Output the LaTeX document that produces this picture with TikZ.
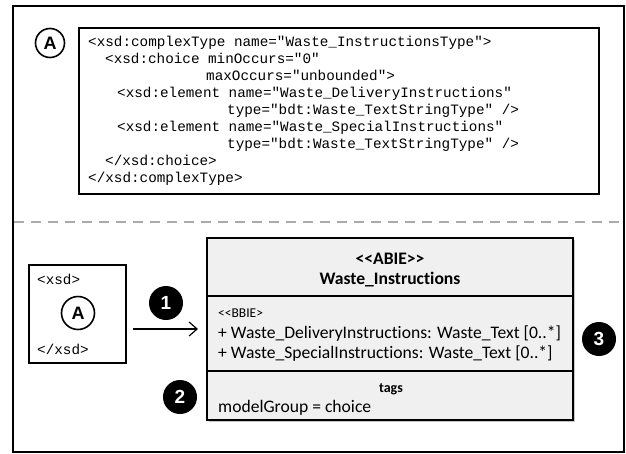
\documentclass[tikz,border=0pt]{standalone}
\usepackage{fontspec}
\setmainfont{Carlito}[Ligatures={TeXOff,CommonOff}]
\newfontfamily\codefont{Liberation Mono}
\newfontfamily\labelfont{Liberation Sans}
\usetikzlibrary{arrows.meta}
\definecolor{umlfill}{HTML}{F0F0F0}
\definecolor{sepgray}{HTML}{AAAAAA}
\tikzset{
  frame/.style={draw=black, line width=2pt},
  code/.style={inner sep=0pt, anchor=base west, font=\codefont\fontsize{14.3}{17}\selectfont},
  umltext/.style={inner sep=0pt, anchor=base west, font=\fontsize{17.6}{20}\selectfont},
  umlhead/.style={inner sep=0pt, anchor=base, font=\bfseries\fontsize{17.6}{20}\selectfont},
  umlsmall/.style={inner sep=0pt, anchor=base, font=\fontsize{13.5}{15}\selectfont},
  compartment/.style={draw=black, fill=umlfill, line width=2pt},
  refcircle/.style={circle, draw=black, fill=white, line width=1.6pt, inner sep=0pt,
    font=\labelfont\bfseries\fontsize{18}{18}\selectfont},
  numcircle/.style={circle, fill=black, text=white, inner sep=0pt, minimum size=34pt,
    font=\labelfont\bfseries\fontsize{19}{19}\selectfont},
}
\begin{document}
\begin{tikzpicture}[x=1pt, y=-1pt]
\useasboundingbox (0,0) rectangle (626,453);
\fill[white] (0,0) rectangle (626,453);

% outer frame and section separator
\draw[frame] (13,6) rectangle (624,451.5);
\draw[sepgray, line width=2.4pt, dash pattern=on 10pt off 7pt] (14,222) -- (623,222);

% XSD listing
\draw[frame] (79,28) rectangle (599,194);
\node[refcircle, minimum size=29pt] (refA) at (50,43) {A};
\node[code] (l1) at (88,46.5)  {<xsd:complexType name="Waste\_InstructionsType">};
\node[code] (l2) at (105,63.5) {<xsd:choice minOccurs="0"};
\node[code] (l3) at (206,80.5) {maxOccurs="unbounded">};
\node[code] (l4) at (117,97.5) {<xsd:element name="Waste\_DeliveryInstructions"};
\node[code] (l5) at (227,114.5) {type="bdt:Waste\_TextStringType" />};
\node[code] (l6) at (117,131.5) {<xsd:element name="Waste\_SpecialInstructions"};
\node[code] (l7) at (227,148.5) {type="bdt:Waste\_TextStringType" />};
\node[code] (l8) at (105,165.5) {</xsd:choice>};
\node[code] (l9) at (88,182.5) {</xsd:complexType>};

% schema reference box
\draw[frame] (29,265) rectangle (126,363);
\node[code] (xo) at (37,284.5) {<xsd>};
\node[code] (xc) at (37,354.5) {</xsd>};
\node[refcircle, minimum size=33pt] (refB) at (78,313) {A};

% mapping arrow
\coordinate (arrS) at (133,329);
\coordinate (arrE) at (198,329);
\draw[line width=1.2pt, -{Straight Barb[length=8pt, width=14pt, line width=1.2pt]}] (arrS) -- (arrE);

% UML class with its compartments
\fill[gray!45] (208.5,239.5) rectangle (574.5,421.5);
\draw[compartment] (207,238) rectangle (573,296);
\draw[compartment] (207,296) rectangle (573,371);
\draw[compartment] (207,371) rectangle (573,420);
\node[umlhead] (ster) at (390,264) {<<ABIE>>};
\node[umlhead] (cname) at (390,284.5) {Waste\_Instructions};
\node[umlsmall, anchor=base west] (bbie) at (218,317) {<<BBIE>};
\node[umltext] (att1) at (218,338) {+ Waste\_DeliveryInstructions: Waste\_Text [0..*]};
\node[umltext] (att2) at (218,358.5) {+ Waste\_SpecialInstructions: Waste\_Text [0..*]};
\node[umlsmall, font=\bfseries\fontsize{14}{15}\selectfont] (tags) at (391,392) {tags};
\node[umltext] (mg) at (218,412) {modelGroup = choice};

% numbered callouts
\node[numcircle] (n1) at (166,303) {1};
\node[numcircle] (n2) at (180,397) {2};
\node[numcircle] (n3) at (599,339) {3};
\end{tikzpicture}
\end{document}
